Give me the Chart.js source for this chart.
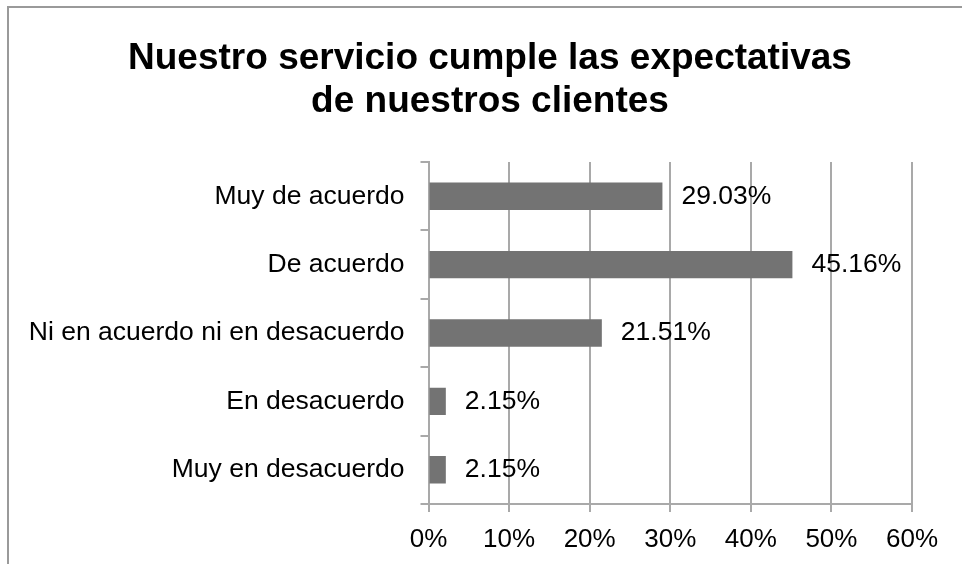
<!DOCTYPE html>
<html>
<head>
<meta charset="utf-8">
<script src="https://cdn.jsdelivr.net/npm/chart.js@4/dist/chart.umd.min.js"></script>
<style>
  body { margin: 0; background: #fff; }
  #wrap { position: relative; width: 962px; height: 564px; }
</style>
</head>
<body>
<div id="wrap"><canvas id="myChart"></canvas></div>
<script>
const categories = ["Muy de acuerdo", "De acuerdo", "Ni en acuerdo ni en desacuerdo", "En desacuerdo", "Muy en desacuerdo"]
const percentValues = [29.03, 45.16, 21.51, 2.15, 2.15]
const titleLines = ["Nuestro servicio cumple las expectativas", "de nuestros clientes"]
const xMax = 60
const xStep = 10

const gridColor = "#a9a9a9"
const fontFamily = "'Liberation Sans', Arial, sans-serif"

// frame around the chart (only left and top edges are visible in the picture)
const framePlugin = {
    id: "frame",
    beforeDraw(chart) {
        let ctx = chart.ctx
        ctx.save()
        ctx.strokeStyle = "#9a9a9a"
        ctx.lineWidth = 2
        ctx.beginPath()
        ctx.moveTo(8, 564)
        ctx.lineTo(8, 7)
        ctx.lineTo(962, 7)
        ctx.stroke()

        // title is centred on the whole frame, not on the canvas
        ctx.fillStyle = "#000"
        ctx.font = "bold 37px " + fontFamily
        ctx.textAlign = "center"
        ctx.textBaseline = "alphabetic"
        titleLines.forEach((line, i) => {
            ctx.fillText(line, 490, 69 + i * 42.5)
        })
        ctx.restore()
    }
}

// value labels to the right of each bar
const valueLabels = {
    id: "valueLabels",
    afterDatasetsDraw(chart) {
        let ctx = chart.ctx
        let meta = chart.getDatasetMeta(0)
        ctx.save()
        ctx.font = "26.5px " + fontFamily
        ctx.fillStyle = "#000"
        ctx.textAlign = "left"
        ctx.textBaseline = "middle"
        meta.data.forEach((bar, i) => {
            ctx.fillText(percentValues[i].toFixed(2) + "%", bar.x + 19, bar.y)
        })
        ctx.restore()
    }
}

Chart.defaults.font.family = fontFamily
Chart.defaults.color = "#000"

new Chart("myChart", {
    type: "bar",
    data: {
        labels: categories,
        datasets: [{
            data: percentValues,
            backgroundColor: "#737373",
            barPercentage: 0.4,
            categoryPercentage: 1
        }]
    },
    options: {
        indexAxis: "y",
        responsive: true,
        maintainAspectRatio: false,
        animation: false,
        layout: { padding: { left: 0, right: 50, top: 162, bottom: 0 } },
        plugins: {
            legend: { display: false },
            tooltip: { enabled: false },
            title: { display: false }
        },
        scales: {
            x: {
                min: 0,
                max: xMax,
                ticks: {
                    stepSize: xStep,
                    padding: 12,
                    font: { size: 26 },
                    callback: (v) => v + "%"
                },
                grid: { color: gridColor, lineWidth: 2, tickLength: 8 },
                border: { color: gridColor, width: 2 },
                afterFit: (scale) => { scale.height = 60 }
            },
            y: {
                ticks: { padding: 16, font: { size: 26.5 } },
                grid: { drawOnChartArea: false, color: gridColor, lineWidth: 2, tickLength: 8, offset: true },
                border: { color: gridColor, width: 2 },
                afterFit: (scale) => { scale.width = 428.5 }
            }
        }
    },
    plugins: [framePlugin, valueLabels]
})
</script>
</body>
</html>
